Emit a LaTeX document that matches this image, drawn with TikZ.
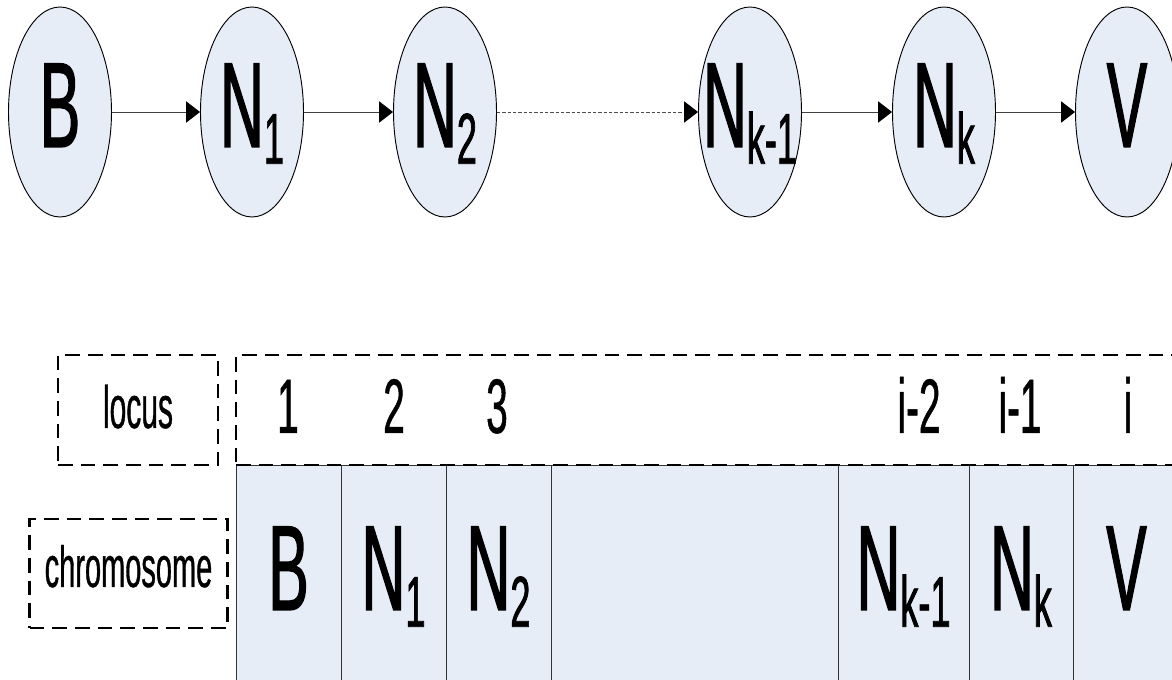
\documentclass[tikz,border=0pt]{standalone}
\usepackage{fontspec}
\setmainfont{Liberation Sans}[FakeStretch=0.5,FakeBold=0.6]
\newfontfamily\labelfont{Liberation Sans}[FakeStretch=0.5,FakeBold=1]
\usetikzlibrary{arrows.meta,shapes.geometric}
\definecolor{cellblue}{RGB}{230,237,247}
\newcommand{\mysub}[1]{\raisebox{-12.5pt}{\fontsize{54}{54}\selectfont #1}}
\begin{document}
\begin{tikzpicture}[x=0.75pt,y=-0.75pt,
  state/.style={ellipse, draw=black, line width=0.7pt, fill=cellblue,
    minimum width=77.25pt, minimum height=157.5pt, inner sep=0pt,
    text height=52.5pt, text depth=0pt, font=\labelfont\fontsize{91}{91}\selectfont},
  cell/.style={rectangle, draw=black!80, line width=0.7pt, fill=cellblue,
    minimum height=165pt, inner sep=0pt,
    text height=52.5pt, text depth=0pt, font=\labelfont\fontsize{91}{91}\selectfont},
  conn/.style={-{Triangle[length=10.5pt,width=16pt,color=black]}, line width=0.7pt, draw=black!75},
  dashconn/.style={conn, dash pattern=on 2.5pt off 1.5pt, draw=black!70},
  dbox/.style={rectangle, draw=black, line width=1.6pt, dash pattern=on 11pt off 6pt, inner sep=0pt},
  locnum/.style={anchor=base, inner sep=0pt, font=\fontsize{58}{58}\selectfont}
]
\clip (0,0) rectangle (1172,680);
% top chain
\node[state] (B)   at (60,112)   {\makebox[0pt]{B}};
\node[state] (N1)  at (252,112)  {\makebox[0pt]{N\mysub{1}}};
\node[state] (N2)  at (445,112)  {\makebox[0pt]{N\mysub{2}}};
\node[state] (Nk1) at (750,112)  {\makebox[0pt]{N\mysub{k-1}}};
\node[state] (Nk)  at (944,112)  {\makebox[0pt]{N\mysub{k}}};
\node[state] (V)   at (1127,112) {\makebox[0pt]{V}};
\draw[conn] (B) -- (N1);
\draw[conn] (N1) -- (N2);
\draw[dashconn] (N2) -- (Nk1);
\draw[conn] (Nk1) -- (Nk);
\draw[conn] (Nk) -- (V);
% chromosome cells
\node[cell, minimum width=78.75pt] (c1) at (288.5,575) {\makebox[0pt]{B}};
\node[cell, minimum width=78.75pt] (c2) at (393.5,575) {\makebox[0pt]{N\mysub{1}}};
\node[cell, minimum width=78.75pt] (c3) at (498.5,575) {\makebox[0pt]{N\mysub{2}}};
\node[cell, minimum width=215.25pt] (c4) at (694.5,575) {};
\node[cell, minimum width=98.25pt] (c5) at (903.5,575) {\makebox[0pt]{N\mysub{k-1}}};
\node[cell, minimum width=78pt] (c6) at (1021,575) {\makebox[0pt]{N\mysub{k}}};
\node[cell, minimum width=80.25pt] (c7) at (1126.5,575) {\makebox[0pt]{V}};
% dashed boxes
\node[dbox, minimum width=723pt, minimum height=82.5pt] (row) at (718,410) {};
\node[dbox, minimum width=120pt, minimum height=82.5pt,
      font=\fontsize{45}{45}\selectfont, text height=27pt, text depth=0pt] (locus) at (138,410) {locus};
\node[dbox, minimum width=148.5pt, minimum height=81.75pt,
      font=\fontsize{43.5}{43.5}\selectfont, text height=20.25pt, text depth=0pt] (chrom) at (128.5,573.5) {chromosome};
% locus numbers
\node[locnum] (l1) at (288,433) {1};
\node[locnum] (l2) at (394,433) {2};
\node[locnum] (l3) at (497,433) {3};
\node[locnum] (l4) at (919,433) {i-2};
\node[locnum] (l5) at (1020,433) {i-1};
\node[locnum] (l6) at (1128,433) {i};
\end{tikzpicture}
\end{document}
